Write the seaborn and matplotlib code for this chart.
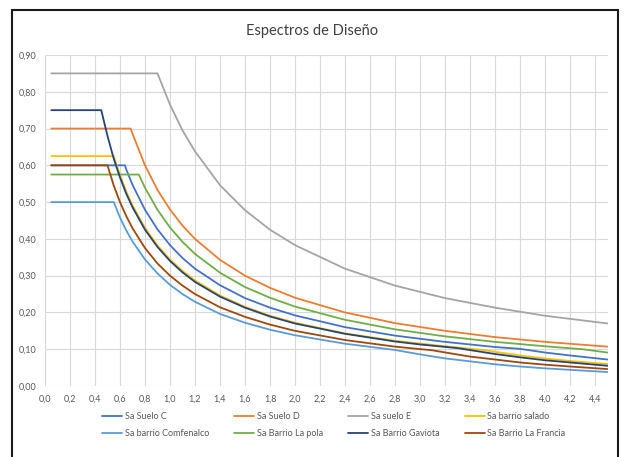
import matplotlib
matplotlib.use("Agg")
import matplotlib.pyplot as plt
import seaborn as sns
import pandas as pd
from matplotlib.patches import Rectangle
from matplotlib.lines import Line2D

# Periods (s) and spectral accelerations (g) for each design spectrum
t_suelo_c = [0.05, 0.64, 0.65, 0.7, 0.8, 0.9, 1.0, 1.1, 1.2, 1.4, 1.6, 1.8, 2.0, 2.4, 2.8, 3.2, 3.6, 3.8, 4.0, 4.2, 4.5]
sa_suelo_c = [0.60, 0.60, 0.589, 0.547, 0.479, 0.426, 0.383, 0.348, 0.319, 0.274, 0.239, 0.213, 0.192, 0.160, 0.137, 0.120, 0.106, 0.101, 0.091, 0.083, 0.072]

t_suelo_d = [0.05, 0.686, 0.7, 0.8, 0.9, 1.0, 1.1, 1.2, 1.4, 1.6, 1.8, 2.0, 2.4, 2.8, 3.2, 3.6, 4.0, 4.5]
sa_suelo_d = [0.70, 0.70, 0.686, 0.600, 0.533, 0.480, 0.436, 0.400, 0.343, 0.300, 0.267, 0.240, 0.200, 0.171, 0.150, 0.133, 0.120, 0.107]

t_suelo_e = [0.05, 0.90, 1.0, 1.1, 1.2, 1.4, 1.6, 1.8, 2.0, 2.4, 2.8, 3.2, 3.6, 4.0, 4.5]
sa_suelo_e = [0.85, 0.85, 0.765, 0.695, 0.638, 0.546, 0.478, 0.425, 0.383, 0.319, 0.273, 0.239, 0.213, 0.191, 0.170]

t_salado = [0.05, 0.55, 0.6, 0.65, 0.7, 0.8, 0.9, 1.0, 1.1, 1.2, 1.4, 1.6, 1.8, 2.0, 2.4, 2.8, 3.2, 3.5, 3.8, 4.0, 4.2, 4.5]
sa_salado = [0.625, 0.625, 0.573, 0.529, 0.491, 0.430, 0.382, 0.344, 0.313, 0.287, 0.246, 0.215, 0.191, 0.172, 0.143, 0.123, 0.108, 0.098, 0.083, 0.075, 0.068, 0.060]

t_comfenalco = [0.05, 0.55, 0.6, 0.65, 0.7, 0.8, 0.9, 1.0, 1.1, 1.2, 1.4, 1.6, 1.8, 2.0, 2.4, 2.8, 3.0, 3.2, 3.4, 3.6, 3.8, 4.0, 4.2, 4.5]
sa_comfenalco = [0.50, 0.50, 0.458, 0.423, 0.393, 0.344, 0.306, 0.275, 0.250, 0.229, 0.196, 0.172, 0.153, 0.138, 0.115, 0.098, 0.086, 0.075, 0.067, 0.059, 0.053, 0.048, 0.044, 0.038]

t_la_pola = [0.05, 0.75, 0.8, 0.9, 1.0, 1.1, 1.2, 1.4, 1.6, 1.8, 2.0, 2.4, 2.8, 3.2, 3.6, 4.0, 4.3, 4.5]
sa_la_pola = [0.575, 0.575, 0.539, 0.479, 0.431, 0.392, 0.359, 0.308, 0.269, 0.240, 0.216, 0.180, 0.154, 0.135, 0.120, 0.108, 0.100, 0.091]

t_gaviota = [0.05, 0.45, 0.5, 0.55, 0.6, 0.65, 0.7, 0.8, 0.9, 1.0, 1.1, 1.2, 1.4, 1.6, 1.8, 2.0, 2.4, 2.8, 3.0, 3.3, 3.6, 3.8, 4.0, 4.2, 4.5]
sa_gaviota = [0.75, 0.75, 0.680, 0.618, 0.567, 0.523, 0.486, 0.425, 0.378, 0.340, 0.309, 0.283, 0.243, 0.213, 0.189, 0.170, 0.142, 0.121, 0.113, 0.103, 0.087, 0.078, 0.070, 0.064, 0.055]

t_la_francia = [0.05, 0.50, 0.55, 0.6, 0.65, 0.7, 0.8, 0.9, 1.0, 1.1, 1.2, 1.4, 1.6, 1.8, 2.0, 2.4, 2.8, 3.1, 3.4, 3.6, 3.8, 4.0, 4.2, 4.5]
sa_la_francia = [0.60, 0.60, 0.545, 0.500, 0.462, 0.429, 0.375, 0.333, 0.300, 0.273, 0.250, 0.214, 0.188, 0.167, 0.150, 0.125, 0.107, 0.097, 0.080, 0.072, 0.064, 0.058, 0.053, 0.046]

series_names = ["Sa Suelo C", "Sa Suelo D", "Sa suelo E", "Sa barrio salado",
                "Sa barrio Comfenalco", "Sa Barrio La pola", "Sa Barrio Gaviota",
                "Sa Barrio La Francia"]
series_t = [t_suelo_c, t_suelo_d, t_suelo_e, t_salado, t_comfenalco, t_la_pola, t_gaviota, t_la_francia]
series_sa = [sa_suelo_c, sa_suelo_d, sa_suelo_e, sa_salado, sa_comfenalco, sa_la_pola, sa_gaviota, sa_la_francia]
colors = ["#4472C4", "#ED7D31", "#A5A5A5", "#FFC000", "#5B9BD5", "#70AD47", "#264478", "#9E480E"]

x_ticks = [round(0.2 * i, 1) for i in range(23)]
y_ticks = [round(0.1 * i, 1) for i in range(10)]

rows = []
for name, ts, sas in zip(series_names, series_t, series_sa):
    for t, sa in zip(ts, sas):
        rows.append({"T": t, "Sa": sa, "serie": name})
df = pd.DataFrame(rows)

sns.set_theme(style="white")
plt.rcParams["font.family"] = ["Lato", "DejaVu Sans"]

fig = plt.figure(figsize=(6.24, 4.57), dpi=100)
ax = fig.add_axes([45 / 624, 1 - 386 / 457, (607.5 - 45) / 624, (386 - 55) / 457])

sns.lineplot(data=df, x="T", y="Sa", hue="serie", hue_order=series_names,
             palette=colors, sort=False, estimator=None, units="serie",
             linewidth=1.3, legend=False, ax=ax)

ax.set_xlim(0, 4.5)
ax.set_ylim(0, 0.9)
ax.set_xticks(x_ticks)
ax.set_yticks(y_ticks)
ax.set_xticklabels([f"{v:.1f}".replace(".", ",") for v in x_ticks])
ax.set_yticklabels([f"{v:.2f}".replace(".", ",") for v in y_ticks])
ax.tick_params(axis="both", labelsize=6.5, colors="#595959", length=0, pad=6)
ax.grid(True, color="#D9D9D9", linewidth=0.8)
ax.set_axisbelow(True)
for s in ax.spines.values():
    s.set_visible(False)
ax.set_xlabel("")
ax.set_ylabel("")

fig.text(0.5, 1 - 31 / 457, "Espectros de Diseño", ha="center", va="center",
         fontsize=10.5, color="#404040")

# legend filled row by row (four entries per row)
order = [0, 4, 1, 5, 2, 6, 3, 7]
handles = [Line2D([], [], color=colors[i], linewidth=1.3) for i in order]
labels = [series_names[i] for i in order]
fig.legend(handles, labels, ncol=4, loc="center", bbox_to_anchor=(0.535, 1 - 425 / 457),
           frameon=False, fontsize=6.5, handlelength=2.2, handletextpad=0.3,
           columnspacing=2.8, labelspacing=0.9, labelcolor="#595959")

fig.patches.append(Rectangle((12 / 624, -0.05), (618 - 12) / 624, 1.05 - 10 / 457,
                             transform=fig.transFigure, fill=False,
                             edgecolor="#1a1a1a", linewidth=1.5))

fig.savefig("out.png", dpi=100)
